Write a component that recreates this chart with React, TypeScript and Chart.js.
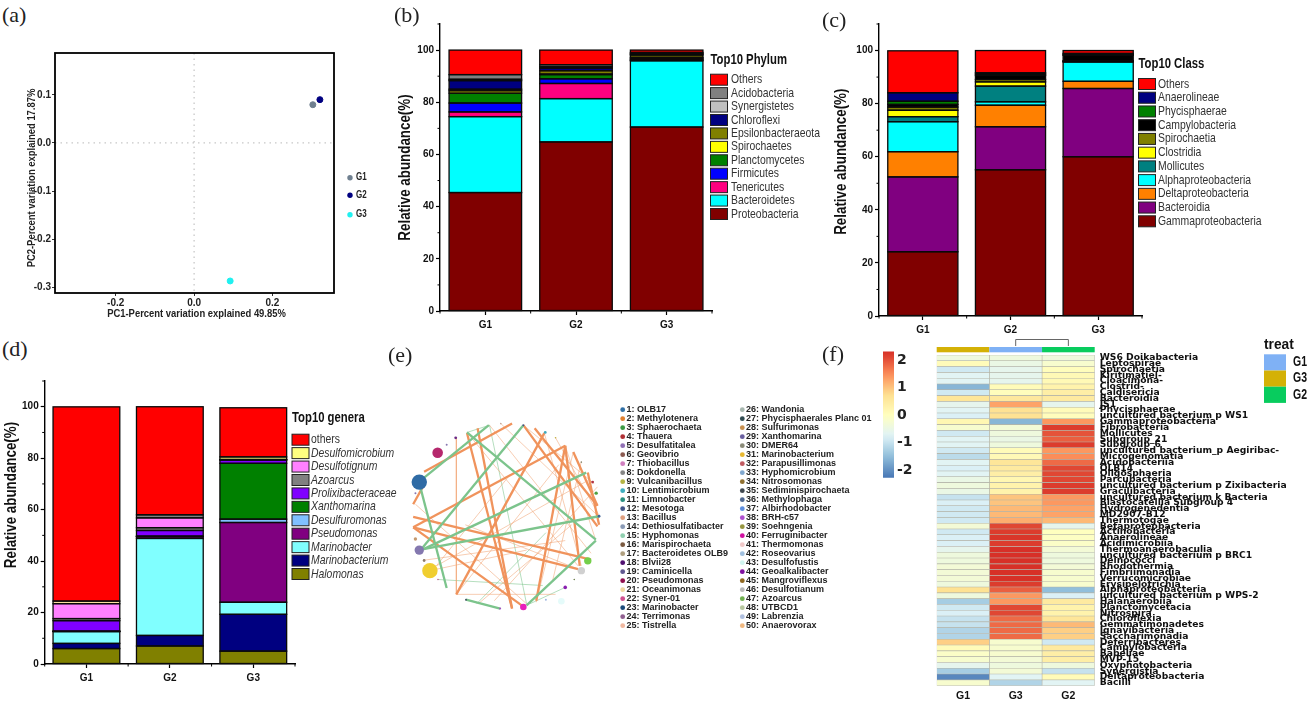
import { useEffect, useRef } from 'react';
import { Chart, registerables } from 'chart.js';
Chart.register(...registerables);

const WIDE = '"DejaVu Sans",sans-serif';
const ARIAL = '"Liberation Sans",sans-serif';
const groups = ['G1', 'G2', 'G3'];

// (a) PCoA
const pcoaG1 = [{ x: 0.303, y: 0.0795 }];
const pcoaG2 = [{ x: 0.321, y: 0.09 }];
const pcoaG3 = [{ x: 0.092, y: -0.287 }];

// (b) phylum, bottom of the stack first
const phylumNames = ['Proteobacteria', 'Bacteroidetes', 'Tenericutes', 'Firmicutes', 'Planctomycetes', 'Spirochaetes', 'Epsilonbacteraeota', 'Chloroflexi', 'Synergistetes', 'Acidobacteria', 'Others'];
const phylumColors = ['#800000', '#00FFFF', '#FF0080', '#0000FF', '#008000', '#FFFF00', '#808000', '#000080', '#C0C0C0', '#808080', '#FF0000'];
const phylumG1 = [45.4, 29.1, 1.8, 3.4, 3.8, 0.9, 0.6, 3.3, 0.5, 1.8, 9.4];
const phylumG2 = [64.8, 16.6, 5.8, 1.8, 1.6, 0.2, 1.3, 1.0, 0.5, 0.8, 5.6];
const phylumG3 = [70.5, 25.4, 0.2, 0.3, 0.4, 0.4, 0.9, 0.3, 0.3, 0.4, 0.9];

// (c) class
const classNames = ['Gammaproteobacteria', 'Bacteroidia', 'Deltaproteobacteria', 'Alphaproteobacteria', 'Mollicutes', 'Clostridia', 'Spirochaetia', 'Campylobacteria', 'Phycisphaerae', 'Anaerolineae', 'Others'];
const classColors = ['#800000', '#800080', '#FF8000', '#00FFFF', '#008080', '#FFFF00', '#808000', '#000000', '#008000', '#000080', '#FF0000'];
const classG1 = [24.2, 28.2, 9.5, 11.3, 1.9, 2.4, 1.2, 1.0, 1.2, 3.2, 15.8];
const classG2 = [55.1, 16.2, 8.1, 1.3, 5.9, 1.6, 0.9, 1.5, 0.5, 0.5, 8.4];
const classG3 = [60, 25.7, 2.7, 7.3, 0.1, 0.2, 0.2, 2.0, 0.3, 0.4, 1.1];

// (d) genera
const genusNames = ['Halomonas', 'Marinobacterium', 'Marinobacter', 'Pseudomonas', 'Desulfuromonas', 'Xanthomarina', 'Prolixibacteraceae', 'Azoarcus', 'Desulfotignum', 'Desulfomicrobium', 'others'];
const genusColors = ['#808000', '#000080', '#80FFFF', '#800080', '#80C0FF', '#008000', '#8000FF', '#808080', '#FF80FF', '#FFFF80', '#FF0000'];
const genusG1 = [6, 2, 4.6, 0.05, 0.05, 0.05, 4.1, 0.8, 5.8, 1.0, 75.5];
const genusG2 = [7, 4.1, 37.7, 0.7, 0.1, 0.1, 2.2, 1.1, 3.8, 1.2, 42];
const genusG3 = [5, 14.3, 4.7, 31, 1.3, 21.7, 1.3, 0.1, 0.1, 1.0, 19.1];

// (e) network, in the layout's own units
const nodeX = [124, 67, 100, 67, 590, 570, 390, 520, 508, 180, 152, 55, 55, 82, 125, 212, 318, 390, 458, 490, 605, 616, 625, 460, 548, 570, 320];
const nodeY = [332, 425, 705, 640, 674, 705, 820, 758, 802, 285, 307, 460, 605, 673, 733, 797, 825, 245, 268, 285, 425, 460, 533, 797, 733, 362, 240];
const nodeR = [5.3, 7.7, 7.7, 4.7, 3.7, 3.7, 3.3, 1.8, 3.3, 1.4, 1, 1, 1.7, 1.4, 0.8, 1, 1, 1, 1.4, 0.8, 1.4, 1.7, 1.4, 1, 0.8, 0.8, 0.8];
const nodeColors = ['#B5286D', '#2F6BA5', '#F0CE30', '#8478AF', '#74CF4A', '#D0D0D0', '#E81FBB', '#8A1FB0', '#E5FBFA', '#6B2A85', '#8878B0', '#8878B0', '#C59A70', '#8B7A6A', '#C06090', '#445566', '#A050C0', '#445588', '#3FA9BD', '#C0B040', '#B03040', '#50A040', '#446699', '#A0B8E0', '#708050', '#8A8A70', '#C0A090'];
const thickGreen = [[65, 425, 283, 245], [75, 635, 390, 245], [80, 637, 585, 395], [80, 637, 625, 533], [215, 268, 615, 607], [70, 440, 152, 760], [400, 815, 615, 610], [212, 797, 318, 825]];
const thickOrange = [[82, 392, 355, 240], [48, 495, 78, 440], [48, 535, 600, 670], [48, 568, 520, 310], [48, 568, 560, 700], [48, 568, 385, 815], [182, 780, 455, 270], [215, 270, 355, 825], [248, 255, 355, 825], [390, 245, 620, 565], [425, 255, 620, 500], [430, 800, 520, 310], [520, 310, 565, 690], [590, 395, 625, 560], [545, 330, 620, 500]];
const thinOrange = [[182, 285, 182, 780], [182, 780, 490, 780], [320, 240, 620, 530], [285, 245, 600, 650], [215, 268, 560, 690], [120, 690, 590, 420], [82, 672, 520, 610], [55, 495, 400, 810], [100, 705, 400, 640], [390, 245, 610, 430], [490, 285, 625, 530], [455, 270, 570, 690], [250, 810, 540, 560], [300, 800, 620, 440], [545, 330, 430, 805], [570, 360, 480, 740], [520, 310, 615, 610], [120, 690, 350, 400], [182, 780, 500, 370], [210, 560, 560, 700]];
const thinGreen = [[125, 733, 450, 752], [215, 268, 285, 245], [285, 245, 400, 810], [245, 810, 460, 585], [520, 758, 410, 810]];
const taxaCol1 = ['1: OLB17', '2: Methylotenera', '3: Sphaerochaeta', '4: Thauera', '5: Desulfatitalea', '6: Geovibrio', '7: Thiobacillus', '8: Dokdonella', '9: Vulcanibacillus', '10: Lentimicrobium', '11: Limnobacter', '12: Mesotoga', '13: Bacillus', '14: Dethiosulfatibacter', '15: Hyphomonas', '16: Marispirochaeta', '17: Bacteroidetes OLB9', '18: Blvii28', '19: Caminicella', '20: Pseudomonas', '21: Oceanimonas', '22: Syner-01', '23: Marinobacter', '24: Terrimonas', '25: Tistrella'];
const taxaCol2 = ['26: Wandonia', '27: Phycisphaerales Planc 01', '28: Sulfurimonas', '29: Xanthomarina', '30: DMER64', '31: Marinobacterium', '32: Parapusillimonas', '33: Hyphomicrobium', '34: Nitrosomonas', '35: Sediminispirochaeta', '36: Methylophaga', '37: Albirhodobacter', '38: BRH-c57', '39: Soehngenia', '40: Ferruginibacter', '41: Thermomonas', '42: Roseovarius', '43: Desulfofustis', '44: Geoalkalibacter', '45: Mangroviflexus', '46: Desulfotianum', '47: Azoarcus', '48: UTBCD1', '49: Labrenzia', '50: Anaerovorax'];
const taxaColors1 = ['#2F6FA5', '#E08030', '#3A9A45', '#B03035', '#9070B5', '#8A5A50', '#D080C0', '#858585', '#B5B545', '#3FAFC0', '#2A9080', '#445588', '#E0A080', '#8A9AB5', '#90D0B0', '#7A5A40', '#B0A080', '#501070', '#605890', '#901050', '#F0D8A0', '#D05090', '#1A4A7A', '#906090', '#F0B8A0'];
const taxaColors2 = ['#A8B8B0', '#2F4A50', '#C89050', '#6A60A0', '#8A8A78', '#E8B830', '#C05A60', '#80A8D0', '#907030', '#404850', '#506890', '#6090E0', '#B050D0', '#959540', '#D010A0', '#F0C8C8', '#A0C0E0', '#D0F5F0', '#8010A0', '#906820', '#B8B8B8', '#70B050', '#B8C8A0', '#B0C0E0', '#F0B880'];

// (f) heatmap z-scores, rows top to bottom
const heatRows = ['WS6 Doikabacteria', 'Leptospirae', 'Spirochaetia', 'Kiritimatiel-', 'Cloacimona-', 'Clostrid-', 'Caldisericia', 'Bacteroidia', 'JS1', 'Phycisphaerae', 'uncultured bacterium p WS1', 'Gammaproteobacteria', 'Fibrobacteria', 'Mollicutes', 'Subgroup_21', 'Subgroup_6', 'uncultured bacterium_p Aegiribac-', 'Microgenomatia', 'Acidobacteriia', 'OLB14', 'Oligosphaeria', 'Parcubacteria', 'uncultured bacterium p Zixibacteria', 'Gracilibacteria', 'uncultured bacterium k Bacteria', 'Blastocatellia Subgroup 4', 'Hydrogenedentia', 'MD2907-B12', 'Thermotogae', 'Betaproteobacteria', 'Actinobacteria', 'Anaerolineae', 'Acidimicrobiia', 'Thermoanaerobaculia', 'uncultured bacterium p BRC1', 'Deinococci', 'Rhodothermia', 'Fimbriimonadia', 'Verrucomicrobiae', 'Erysipelotrichia', 'Alphaproteobacteria', 'uncultured bacterium p WPS-2', 'Halanaerobiia', 'Planctomycetacia', 'Nitrospira', 'Chloroflexia', 'Gemmatimonadetes', 'Ignavibacteria', 'Saccharimonadia', 'Deferribacteres', 'Campylobacteria', 'Babeliae', 'MVP-15', 'Oxyphotobacteria', 'Synergistia', 'Deltaproteobacteria', 'Bacilli'];
const heatG1 = [-0.4, 0.1, -0.9, -0.7, -0.7, -1.6, -0.9, 0.6, -0.6, -0.7, -0.8, 0.2, -0.2, -0.9, -0.7, -0.7, -0.9, -1.1, -0.7, -0.8, -0.7, -0.5, -0.4, -0.5, -1.0, -0.8, -0.9, -0.9, -0.9, -0.3, -0.9, -0.8, -0.8, -0.6, -0.4, -0.4, -0.3, -0.3, -0.3, -0.4, 0.7, -0.4, -1.3, -0.9, -0.8, -1.0, -1.0, -1.2, -1.2, 0.9, 0.1, -0.1, -0.2, -0.6, -1.3, -2.1, -0.2];
const heatG3 = [-0.4, -0.5, -0.6, -0.6, -0.6, 0.1, 0.05, 0.55, 1.3, 0.7, 0.7, -1.6, -0.3, -0.4, -0.5, -0.4, 0.1, 0.15, 0.6, 0.5, 0.4, 0.2, 0.3, 0.3, 1.0, 1.0, 1.1, 1.1, 1.2, 2.1, 2.2, 2.25, 2.2, 2.3, 2.3, 2.3, 2.3, 2.3, 2.3, 2.2, 1.9, 1.4, 1.4, 2.1, 2.1, 1.8, 1.8, 1.8, 1.8, -0.2, -0.2, -0.2, -0.3, -0.4, -0.3, -0.7, -1.2];
const heatG2 = [-0.4, -0.2, 0.05, 0.15, 0.15, 0.3, 0.4, 0.5, -0.6, 0.1, 0.05, 1.4, 2.2, 2.0, 1.9, 2.2, 1.4, 1.5, 1.8, 2.1, 2.1, 2.1, 2.2, 2.2, 1.4, 1.4, 1.3, 1.3, 1.1, -0.6, 0.0, -0.05, -0.1, -0.3, -0.4, -0.4, -0.3, -0.2, -0.2, -0.2, -1.5, -0.8, 0.5, 0.3, 0.3, 0.6, 1.1, 0.9, 0.9, -0.9, 0.5, 0.4, 0.4, -0.4, -1.0, 0.1, -0.7];
const heatColumns = ['G1', 'G3', 'G2'];
const heatAnnotColors = ['#D4B106', '#7FB1F5', '#08CC5E'];
const treatNames = ['G1', 'G3', 'G2'];
const treatColors = ['#7FB1F5', '#D4B106', '#08CC5E'];
const stopZ = [-2.3, -1.5, -0.75, 0, 0.75, 1.5, 2.3];
const stopRGB = [[69, 117, 180], [145, 191, 219], [224, 243, 248], [255, 255, 191], [254, 224, 144], [252, 141, 89], [215, 48, 39]];

function heatColor(z: number) {
  let i = 0;
  while (i < stopZ.length - 2 && z > stopZ[i + 1]) i++;
  const t = Math.max(0, Math.min(1, (z - stopZ[i]) / (stopZ[i + 1] - stopZ[i])));
  const c = stopRGB[i].map((v, k) => Math.round(v + (stopRGB[i + 1][k] - v) * t));
  return `rgb(${c[0]},${c[1]},${c[2]})`;
}

type Rect = { x: number; y: number; w: number; h: number };
type Plot = { left: number; top: number; right: number; bottom: number };

function place(c: HTMLCanvasElement, r: Rect) {
  c.style.position = 'absolute';
  c.style.left = r.x + 'px';
  c.style.top = r.y + 'px';
  c.style.width = r.w + 'px';
  c.style.height = r.h + 'px';
  c.width = r.w;
  c.height = r.h;
}

// No condensed face is installed, so condensed text is squeezed horizontally.
function squeezed(ctx: any, text: string, x: number, y: number, sx: number, rotate = false, align = 'left') {
  ctx.save();
  ctx.translate(x, y);
  if (rotate) ctx.rotate(-Math.PI / 2);
  ctx.scale(sx, 1);
  ctx.textAlign = align;
  ctx.textBaseline = 'middle';
  ctx.fillText(text, 0, 0);
  ctx.restore();
}

const baseOpts = () => ({ responsive: false, animation: false as const, devicePixelRatio: 1, plugins: { legend: { display: false }, tooltip: { enabled: false } } });

function makeStack(
  canvas: HTMLCanvasElement,
  rect: Rect,
  plot: Plot,
  title: { x: number; y: number },
  names: string[],
  colors: string[],
  g1: number[],
  g2: number[],
  g3: number[],
  lg: { title: string; titleY: number; x: number; textX: number; y0: number; pitch: number; italic: boolean },
  overrides: Record<number, string[]> = {},
) {
  place(canvas, rect);
  const outlines = {
    id: 'barOutlines',
    afterDatasetsDraw(chart: any) {
      const { ctx } = chart;
      ctx.save();
      ctx.strokeStyle = '#0a0a0a';
      ctx.lineWidth = 1.3;
      chart.data.datasets.forEach((_: any, i: number) => {
        chart.getDatasetMeta(i).data.forEach((el: any) => {
          ctx.strokeRect(el.x - el.width / 2, el.y, el.width, el.base - el.y);
        });
      });
      ctx.restore();
    },
  };
  const legendPlugin = {
    id: 'stackLegend',
    afterDraw(chart: any) {
      const { ctx } = chart;
      ctx.save();
      ctx.translate(-rect.x, -rect.y);
      ctx.fillStyle = '#111';
      ctx.font = `bold 14.5px ${ARIAL}`;
      squeezed(ctx, lg.title, lg.x, lg.titleY, 0.78);
      ctx.font = `bold 17px ${ARIAL}`;
      squeezed(ctx, 'Relative abundance(%)', title.x, title.y, 0.786, true, 'center');
      const order = names.map((_, i) => names.length - 1 - i);
      order.forEach((idx, row) => {
        const y = lg.y0 + row * lg.pitch;
        ctx.fillStyle = colors[idx];
        ctx.strokeStyle = '#222';
        ctx.lineWidth = 1;
        ctx.fillRect(lg.x, y - 5.5, 17, 11);
        ctx.strokeRect(lg.x, y - 5.5, 17, 11);
        ctx.fillStyle = '#333';
        const it = lg.italic && names[idx] !== 'others' ? 'italic ' : '';
        ctx.font = `${it}13px ${ARIAL}`;
        squeezed(ctx, names[idx], lg.textX, y, 0.8);
      });
      const xs = chart.scales.x;
      const ys = chart.scales.y;
      ctx.strokeStyle = '#000';
      ctx.lineWidth = 1;
      ctx.translate(rect.x, rect.y);
      [10, 30, 50, 70, 90, 110].forEach((v) => {
        const p = ys.getPixelForValue(v);
        ctx.beginPath();
        ctx.moveTo(xs.left - 2.5, p);
        ctx.lineTo(xs.left, p);
        ctx.stroke();
      });
      [-0.5, 0.5, 1.5, 2.5].forEach((v) => {
        const p = xs.getPixelForValue(v);
        ctx.beginPath();
        ctx.moveTo(p, ys.bottom);
        ctx.lineTo(p, ys.bottom + 2.5);
        ctx.stroke();
      });
      ctx.restore();
    },
  };
  return new Chart(canvas, {
    type: 'bar',
    data: {
      labels: groups,
      datasets: names.map((n, i) => ({
        label: n,
        data: [g1[i], g2[i], g3[i]],
        backgroundColor: overrides[i] ?? colors[i],
        borderWidth: 0,
        barPercentage: 0.8,
        categoryPercentage: 1,
      })),
    },
    options: {
      ...baseOpts(),
      layout: { padding: { left: 0, bottom: 0, top: plot.top - rect.y, right: rect.x + rect.w - plot.right } },
      scales: {
        x: {
          stacked: true,
          border: { color: '#000', width: 1.4 },
          grid: { offset: false, drawOnChartArea: false, tickLength: 4, tickColor: '#000', tickWidth: 1.2 },
          ticks: { color: '#111', padding: 4, maxRotation: 0, font: { family: ARIAL, weight: 'bold', size: 10 } },
          afterFit: (s: any) => { s.height = rect.y + rect.h - plot.bottom; },
        },
        y: {
          stacked: true,
          min: 0,
          max: 110,
          border: { color: '#000', width: 1.4 },
          grid: { drawOnChartArea: false, tickLength: 4, tickWidth: 1.2, tickColor: (c: any) => (c.tick.value % 20 === 0 ? '#000' : 'transparent') },
          ticks: { stepSize: 10, autoSkip: false, color: '#111', padding: 2, font: { family: ARIAL, weight: 'bold', size: 10 }, callback: (v: any) => (v % 20 === 0 ? String(v) : '') },
          afterFit: (s: any) => { s.width = plot.left - rect.x; },
        },
      },
    } as any,
    plugins: [outlines, legendPlugin],
  });
}

function makePcoa(canvas: HTMLCanvasElement) {
  const rect: Rect = { x: 0, y: 40, w: 390, h: 290 };
  const plot: Plot = { left: 55, top: 53, right: 334, bottom: 293 };
  place(canvas, rect);
  const names = ['G1', 'G2', 'G3'];
  const cols = ['#708090', '#000080', '#20F0F0'];
  const decor = {
    id: 'pcoaDecor',
    beforeDatasetsDraw(chart: any) {
      const { ctx, chartArea: a, scales } = chart;
      ctx.save();
      ctx.strokeStyle = '#c8c8c8';
      ctx.lineWidth = 1.3;
      ctx.setLineDash([1.5, 4]);
      const px = scales.x.getPixelForValue(0);
      const py = scales.y.getPixelForValue(0);
      ctx.beginPath();
      ctx.moveTo(px, a.top);
      ctx.lineTo(px, a.bottom);
      ctx.moveTo(a.left, py);
      ctx.lineTo(a.right, py);
      ctx.stroke();
      ctx.restore();
    },
    afterDraw(chart: any) {
      const { ctx, chartArea: a } = chart;
      ctx.save();
      ctx.strokeStyle = '#000';
      ctx.lineWidth = 1.8;
      ctx.strokeRect(a.left, a.top, a.right - a.left, a.bottom - a.top);
      ctx.translate(-rect.x, -rect.y);
      ctx.fillStyle = '#222';
      ctx.font = `bold 11.5px ${ARIAL}`;
      squeezed(ctx, 'PC1-Percent variation explained 49.85%', 196.5, 314, 0.82, false, 'center');
      squeezed(ctx, 'PC2-Percent variation explained 17.87%', 32, 178, 0.82, true, 'center');
      ctx.font = `bold 10px ${ARIAL}`;
      [177.7, 195.3, 214.7].forEach((y, i) => {
        ctx.fillStyle = cols[i];
        ctx.beginPath();
        ctx.arc(350, y, 2.7, 0, Math.PI * 2);
        ctx.fill();
        ctx.fillStyle = '#222';
        squeezed(ctx, names[i], 356, y, 0.8);
      });
      ctx.restore();
    },
  };
  const font = { family: ARIAL, weight: 'bold', size: 10 };
  return new Chart(canvas, {
    type: 'scatter',
    data: {
      datasets: [pcoaG1, pcoaG2, pcoaG3].map((d, i) => ({ label: names[i], data: d, backgroundColor: cols[i], borderColor: cols[i], pointRadius: 3 })),
    },
    options: {
      ...baseOpts(),
      layout: { padding: { left: 0, bottom: 0, top: plot.top - rect.y, right: rect.x + rect.w - plot.right } },
      scales: {
        x: {
          min: -0.355, max: 0.357,
          afterBuildTicks: (s: any) => { s.ticks = [-0.2, 0, 0.2].map((value) => ({ value })); },
          border: { display: false },
          grid: { drawOnChartArea: false, tickLength: 3, tickColor: '#333' },
          ticks: { color: '#222', padding: 1, font, callback: (v: any) => Number(v).toFixed(1) },
          afterFit: (s: any) => { s.height = rect.y + rect.h - plot.bottom; },
        },
        y: {
          min: -0.312, max: 0.187,
          afterBuildTicks: (s: any) => { s.ticks = [-0.3, -0.2, -0.1, 0, 0.1].map((value) => ({ value })); },
          border: { display: false },
          grid: { drawOnChartArea: false, tickLength: 3, tickColor: '#333' },
          ticks: { color: '#222', padding: 1, font, callback: (v: any) => Number(v).toFixed(1) },
          afterFit: (s: any) => { s.width = plot.left - rect.x; },
        },
      },
    } as any,
    plugins: [decor],
  });
}

function makeNetwork(canvas: HTMLCanvasElement) {
  const rect: Rect = { x: 390, y: 340, w: 500, h: 300 };
  place(canvas, rect);
  const edgeSet = (list: number[][], color: string, width: number, order: number) =>
    list.map((e) => ({
      type: 'scatter',
      label: 'edge',
      data: [{ x: e[0], y: e[1] }, { x: e[2], y: e[3] }],
      showLine: true,
      pointRadius: 0,
      borderColor: color,
      borderWidth: width,
      order,
    }));
  const legendPlugin = {
    id: 'taxaLegend',
    afterDraw(chart: any) {
      const { ctx } = chart;
      ctx.save();
      ctx.translate(-rect.x, -rect.y);
      ctx.textBaseline = 'middle';
      ctx.font = `bold 9px ${ARIAL}`;
      const col = (names: string[], colors: string[], dotX: number, textX: number) => {
        names.forEach((n, i) => {
          const y = 409.7 + i * 9;
          ctx.fillStyle = colors[i];
          ctx.beginPath();
          ctx.arc(dotX, y, 2.4, 0, Math.PI * 2);
          ctx.fill();
          ctx.fillStyle = '#222';
          ctx.fillText(n, textX, y);
        });
      };
      col(taxaCol1, taxaColors1, 622.7, 626.5);
      col(taxaCol2, taxaColors2, 742.3, 746);
      ctx.restore();
    },
  };
  return new Chart(canvas, {
    type: 'scatter',
    data: {
      datasets: [
        ...edgeSet(thinOrange, 'rgba(240,160,110,0.75)', 0.7, 5),
        ...edgeSet(thinGreen, 'rgba(130,200,145,0.85)', 0.7, 5),
        ...edgeSet(thickOrange, '#F0935C', 2.3, 4),
        ...edgeSet(thickGreen, '#7CC48C', 2.3, 3),
        {
          type: 'bubble',
          label: 'nodes',
          data: nodeX.map((x, i) => ({ x, y: nodeY[i], r: nodeR[i] })),
          backgroundColor: nodeColors,
          borderWidth: 0,
          order: 1,
        },
      ],
    },
    options: {
      ...baseOpts(),
      layout: { padding: { left: 0, top: 0, bottom: 0, right: 270 } },
      scales: {
        x: { display: false, min: 0, max: 690 },
        y: { display: false, min: 0, max: 900, reverse: true },
      },
    } as any,
    plugins: [legendPlugin],
  });
}

function makeColorbar(canvas: HTMLCanvasElement) {
  const rect: Rect = { x: 875, y: 340, w: 60, h: 150 };
  place(canvas, rect);
  const zMin = -2.28;
  const zMax = 2.33;
  return new Chart(canvas, {
    type: 'bar',
    data: {
      labels: ['z'],
      datasets: [{
        label: 'scale',
        data: [[zMin, zMax]],
        barPercentage: 1,
        categoryPercentage: 1,
        backgroundColor: (c: any) => {
          const a = c.chart.chartArea;
          if (!a) return '#fff';
          const g = c.chart.ctx.createLinearGradient(0, a.bottom, 0, a.top);
          for (let i = 0; i <= 20; i++) {
            const z = zMin + ((zMax - zMin) * i) / 20;
            g.addColorStop(i / 20, heatColor(z));
          }
          return g;
        },
      }],
    },
    options: {
      ...baseOpts(),
      layout: { padding: { left: 8, top: 10, bottom: 12.3, right: 0 } },
      scales: {
        x: { display: false },
        y: {
          position: 'right',
          min: zMin, max: zMax,
          afterBuildTicks: (s: any) => { s.ticks = [-2, -1, 0, 1, 2].map((value) => ({ value })); },
          border: { display: false },
          grid: { display: false, drawTicks: false },
          ticks: { color: '#222', padding: 3, font: { family: WIDE, weight: 'bold', size: 14 }, callback: (v: any) => String(v) },
          afterFit: (s: any) => { s.width = rect.x + rect.w - 894; },
        },
      },
    } as any,
  });
}

function makeHeatmap(canvas: HTMLCanvasElement) {
  const rect: Rect = { x: 925, y: 335, w: 387, h: 368 };
  const plot: Plot = { left: 936.7, top: 355, right: 1094.7, bottom: 685.7 };
  place(canvas, rect);
  const decor = {
    id: 'heatDecor',
    afterDraw(chart: any) {
      const { ctx, scales } = chart;
      const xs = scales.x;
      ctx.save();
      heatAnnotColors.forEach((c, i) => {
        ctx.fillStyle = c;
        const l = xs.getPixelForValue(i);
        ctx.fillRect(l, 347 - rect.y, xs.getPixelForValue(i + 1) - l, 5.3);
      });
      ctx.strokeStyle = '#666';
      ctx.lineWidth = 1;
      ctx.beginPath();
      ctx.moveTo(xs.getPixelForValue(1.5), 346 - rect.y);
      ctx.lineTo(xs.getPixelForValue(1.5), 339.5 - rect.y);
      ctx.lineTo(xs.getPixelForValue(2.5), 339.5 - rect.y);
      ctx.lineTo(xs.getPixelForValue(2.5), 346 - rect.y);
      ctx.stroke();
      ctx.translate(-rect.x, -rect.y);
      ctx.fillStyle = '#111';
      ctx.font = `bold 14.5px ${ARIAL}`;
      squeezed(ctx, 'treat', 1264, 345, 0.95);
      ctx.font = `bold 14px ${ARIAL}`;
      treatNames.forEach((n, i) => {
        ctx.fillStyle = treatColors[i];
        ctx.fillRect(1264, 354.3 + i * 16.2, 22, 16.2);
        ctx.fillStyle = '#111';
        squeezed(ctx, n, 1293, 362.4 + i * 16.2, 0.75);
      });
      ctx.restore();
    },
  };
  return new Chart(canvas, {
    type: 'bar',
    data: {
      labels: heatRows,
      datasets: [heatG1, heatG3, heatG2].map((col, i) => ({
        label: heatColumns[i],
        data: col.map(() => 1),
        backgroundColor: col.map(heatColor),
        borderColor: '#b4b4a8',
        borderWidth: 0.6,
        borderSkipped: false,
        barPercentage: 1,
        categoryPercentage: 1,
      })),
    },
    options: {
      ...baseOpts(),
      indexAxis: 'y',
      layout: { padding: { left: plot.left - rect.x, bottom: 0, top: plot.top - rect.y, right: 0 } },
      scales: {
        x: {
          stacked: true,
          min: 0, max: 3,
          afterBuildTicks: (s: any) => { s.ticks = [0.5, 1.5, 2.5].map((value) => ({ value })); },
          border: { display: false },
          grid: { display: false, drawTicks: false },
          ticks: { color: '#111', padding: 4, font: { family: ARIAL, weight: 'bold', size: 10.5 }, callback: (v: any) => heatColumns[Math.floor(v)] },
          afterFit: (s: any) => { s.height = rect.y + rect.h - plot.bottom; },
        },
        y: {
          stacked: true,
          position: 'right',
          border: { display: false },
          grid: { display: false, drawTicks: false },
          ticks: { autoSkip: false, color: '#111', padding: 5, font: { family: WIDE, weight: 'bold', size: 9.2 } },
          afterFit: (s: any) => { s.width = rect.x + rect.w - plot.right; },
        },
      },
    } as any,
    plugins: [decor],
  });
}

const panelLabels = [
  { t: '(a)', x: 2, y: 3 },
  { t: '(b)', x: 394, y: 3 },
  { t: '(c)', x: 822, y: 8 },
  { t: '(d)', x: 2, y: 337 },
  { t: '(e)', x: 388, y: 343 },
  { t: '(f)', x: 822, y: 342 },
];

export default function App() {
  const a = useRef<HTMLCanvasElement>(null);
  const b = useRef<HTMLCanvasElement>(null);
  const c = useRef<HTMLCanvasElement>(null);
  const d = useRef<HTMLCanvasElement>(null);
  const e = useRef<HTMLCanvasElement>(null);
  const bar = useRef<HTMLCanvasElement>(null);
  const f = useRef<HTMLCanvasElement>(null);

  useEffect(() => {
    const charts = [
      makePcoa(a.current!),
      makeStack(b.current!, { x: 390, y: 10, w: 440, h: 325 }, { left: 440, top: 24, right: 712, bottom: 311 }, { x: 405, y: 167.5 }, phylumNames, phylumColors, phylumG1, phylumG2, phylumG3,
        { title: 'Top10 Phylum', titleY: 60, x: 710.5, textX: 731, y0: 79.7, pitch: 13.43, italic: false }),
      makeStack(c.current!, { x: 815, y: 10, w: 470, h: 325 }, { left: 879, top: 24, right: 1142, bottom: 316 }, { x: 841.7, y: 161.7 }, classNames, classColors, classG1, classG2, classG3,
        { title: 'Top10 Class', titleY: 64, x: 1138.5, textX: 1158, y0: 84, pitch: 13.73, italic: false }),
      makeStack(d.current!, { x: 0, y: 370, w: 420, h: 315 }, { left: 44.7, top: 381, right: 295, bottom: 664 }, { x: 11.7, y: 495 }, genusNames, genusColors, genusG1, genusG2, genusG3,
        { title: 'Top10 genera', titleY: 418.3, x: 292, textX: 311, y0: 439.7, pitch: 13.43, italic: true },
        { 9: ['#FFE0A0', '#808080', '#FFFF80'] }),
      makeNetwork(e.current!),
      makeColorbar(bar.current!),
      makeHeatmap(f.current!),
    ];
    return () => charts.forEach((ch) => ch.destroy());
  }, []);

  return (
    <div style={{ position: 'absolute', left: 0, top: 0, width: 1312, height: 703, background: '#fff', overflow: 'hidden' }}>
      {[a, b, c, d, e, bar, f].map((r, i) => (
        <canvas key={i} ref={r} />
      ))}
      {panelLabels.map((p) => (
        <div key={p.t} style={{ position: 'absolute', left: p.x, top: p.y, fontFamily: '"Liberation Serif",serif', fontSize: 22, color: '#222', lineHeight: '24px' }}>
          {p.t}
        </div>
      ))}
    </div>
  );
}
